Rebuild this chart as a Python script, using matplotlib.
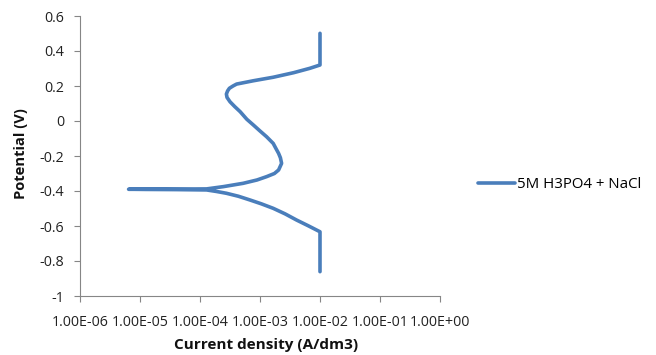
import matplotlib
matplotlib.use("Agg")
import matplotlib.pyplot as plt
import numpy as np

# log10 of current density (A/dm3) and potential (V), scan from cathodic to anodic
log_current = [-2.00, -2.00, -2.00, -2.20, -2.39, -2.58, -2.78, -2.98, -3.17, -3.36, -3.56,
               -3.72, -3.89, -4.40, -4.90, -5.19,
               -4.90, -4.39, -3.89, -3.61, -3.28, -3.05, -2.89, -2.76, -2.69, -2.64,
               -2.66, -2.69, -2.73, -2.78, -2.89, -3.00, -3.11, -3.22, -3.33, -3.42, -3.50,
               -3.55, -3.56, -3.54, -3.51, -3.45, -3.39, -3.11, -2.78, -2.44, -2.17, -2.00, -2.00]
potential = [-0.861, -0.75, -0.633, -0.598, -0.566, -0.531, -0.499, -0.473, -0.451, -0.430, -0.413,
             -0.403, -0.394, -0.392, -0.391, -0.390,
             -0.389, -0.389, -0.388, -0.375, -0.356, -0.337, -0.318, -0.300, -0.280, -0.242,
             -0.210, -0.185, -0.160, -0.128, -0.090, -0.057, -0.023, 0.010, 0.053, 0.082, 0.110,
             0.135, 0.154, 0.172, 0.187, 0.200, 0.211, 0.230, 0.250, 0.276, 0.301, 0.320, 0.501]
series_label = "5M H3PO4 + NaCl"
x_ticks = [1e-6, 1e-5, 1e-4, 1e-3, 1e-2, 1e-1, 1e0]
x_tick_labels = ["1.00E-06", "1.00E-05", "1.00E-04", "1.00E-03", "1.00E-02", "1.00E-01", "1.00E+00"]
y_ticks = [-1, -0.8, -0.6, -0.4, -0.2, 0, 0.2, 0.4, 0.6]
y_tick_labels = ["-1", "-0.8", "-0.6", "-0.4", "-0.2", "0", "0.2", "0.4", "0.6"]

plt.rcParams['font.family'] = ['Open Sans', 'DejaVu Sans']

fig = plt.figure(figsize=(6.56, 3.55), dpi=100)
ax = fig.add_axes([80/656, 1-296/355, 360/656, 280/355])

current = 10.0 ** np.array(log_current)
ax.plot(current, potential, color="#4a7ebb", lw=2.6, solid_capstyle="round",
        solid_joinstyle="round", label=series_label)

ax.set_xscale("log")
ax.set_xlim(1e-6, 1e0)
ax.set_ylim(-1, 0.6)
ax.set_xticks(x_ticks)
ax.set_xticklabels(x_tick_labels)
ax.minorticks_off()
ax.set_yticks(y_ticks)
ax.set_yticklabels(y_tick_labels)

for s in ["top", "right"]:
    ax.spines[s].set_visible(False)
for s in ["left", "bottom"]:
    ax.spines[s].set_color("#868686")
    ax.spines[s].set_linewidth(0.8)
ax.tick_params(axis="both", direction="out", color="#868686", length=4, width=0.8,
               labelsize=10.3, labelcolor="#222222")
ax.tick_params(axis="x", pad=10)
ax.tick_params(axis="y", pad=7.5)

fig.text(266/656, 1-345/355, "Current density (A/dm3)", fontsize=11, fontweight="bold",
         ha="center", va="center", color="#111111")
fig.text(21/656, 1-154/355, "Potential (V)", fontsize=10.6, fontweight="bold",
         ha="center", va="center", rotation=90, color="#111111")

leg = fig.legend(loc="center left", bbox_to_anchor=(478/656, 1-185/355), frameon=False,
                 fontsize=10.8, handlelength=2.45, handletextpad=0.15, borderpad=0,
                 borderaxespad=0)

fig.savefig("out.png", dpi=100)
